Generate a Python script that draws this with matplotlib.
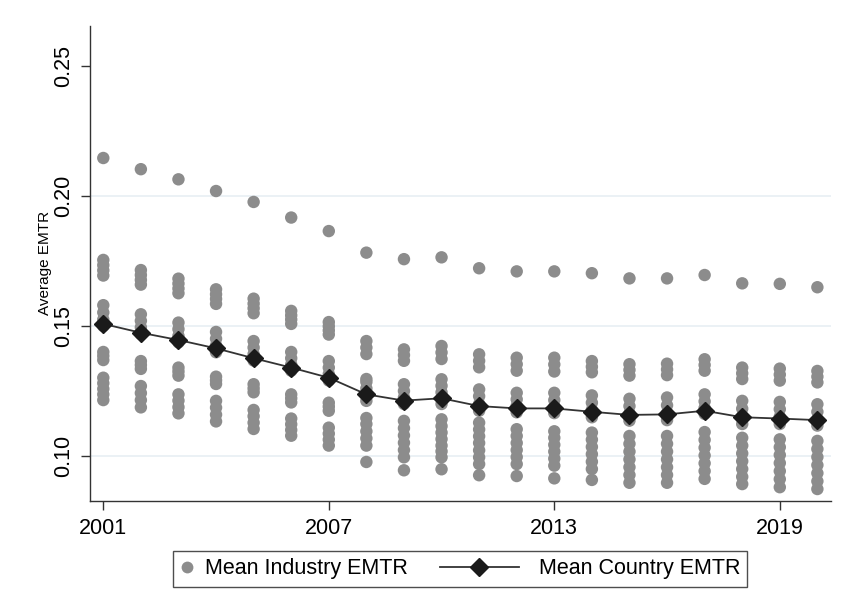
import matplotlib
matplotlib.use("Agg")
import matplotlib.pyplot as plt
from matplotlib.lines import Line2D
from matplotlib.legend_handler import HandlerBase

plt.rcParams["font.family"] = ["Liberation Sans", "DejaVu Sans"]

years = list(range(2001, 2021))

# Mean EMTR of each industry, per year
industry_emtr = {
    2001: [0.2146, 0.1754, 0.1734, 0.1714, 0.1694, 0.158, 0.1552, 0.1525, 0.150,
           0.140, 0.1385, 0.1369, 0.1301, 0.128, 0.1258, 0.1237, 0.1215],
    2002: [0.2103, 0.1715, 0.1696, 0.1677, 0.1659, 0.1545, 0.152, 0.1495, 0.1469,
           0.1365, 0.135, 0.1335, 0.1269, 0.1242, 0.1215, 0.1187],
    2003: [0.2064, 0.1682, 0.1663, 0.1644, 0.1626, 0.1513, 0.1488, 0.1462, 0.1437,
           0.134, 0.1325, 0.1309, 0.1237, 0.1213, 0.1188, 0.1164],
    2004: [0.2019, 0.1641, 0.1622, 0.1604, 0.1585, 0.1477, 0.1451, 0.1425, 0.1399,
           0.1305, 0.1291, 0.1277, 0.1212, 0.1186, 0.1159, 0.1133],
    2005: [0.1977, 0.1605, 0.1586, 0.1568, 0.1549, 0.1442, 0.1417, 0.1392, 0.1367,
           0.1276, 0.126, 0.1245, 0.1177, 0.1153, 0.1128, 0.1104],
    2006: [0.1917, 0.1558, 0.1541, 0.1525, 0.1508, 0.140, 0.1376, 0.1352, 0.1328,
           0.1237, 0.1222, 0.1206, 0.1144, 0.1122, 0.110, 0.1078],
    2007: [0.1865, 0.1515, 0.1499, 0.1483, 0.1467, 0.1365, 0.134, 0.1315, 0.129,
           0.1205, 0.119, 0.1174, 0.1109, 0.1086, 0.1063, 0.104],
    2008: [0.1782, 0.1442, 0.1417, 0.1392, 0.1296, 0.1285, 0.126, 0.1235, 0.1212,
           0.1146, 0.1123, 0.1095, 0.1068, 0.104, 0.0977],
    2009: [0.1757, 0.141, 0.1388, 0.1366, 0.1276, 0.125, 0.1225, 0.120,
           0.1135, 0.1107, 0.1079, 0.1051, 0.1023, 0.0995, 0.0945],
    2010: [0.1764, 0.1423, 0.1398, 0.1373, 0.1295, 0.127, 0.1245, 0.122, 0.120,
           0.1141, 0.1115, 0.109, 0.1065, 0.104, 0.1018, 0.0995, 0.0949],
    2011: [0.1722, 0.1391, 0.1366, 0.1341, 0.1256, 0.123, 0.120, 0.1174,
           0.1128, 0.1102, 0.1076, 0.105, 0.1022, 0.0995, 0.0969, 0.0926],
    2012: [0.171, 0.1378, 0.1353, 0.1328, 0.1243, 0.1218, 0.1193, 0.1168,
           0.1103, 0.1077, 0.105, 0.1023, 0.0996, 0.0969, 0.0923],
    2013: [0.171, 0.1378, 0.1352, 0.1325, 0.1243, 0.1215, 0.119, 0.1165,
           0.1095, 0.107, 0.1043, 0.1017, 0.099, 0.0963, 0.0914],
    2014: [0.1703, 0.1365, 0.1343, 0.1322, 0.1233, 0.1205, 0.1177, 0.1149,
           0.109, 0.1063, 0.1035, 0.1007, 0.0978, 0.095, 0.0908],
    2015: [0.1683, 0.1353, 0.1331, 0.1309, 0.122, 0.1192, 0.1164, 0.1136,
           0.1077, 0.1047, 0.1017, 0.0987, 0.0957, 0.0927, 0.0897],
    2016: [0.1683, 0.1355, 0.1333, 0.1311, 0.1225, 0.1195, 0.1165, 0.1138,
           0.1077, 0.1047, 0.1017, 0.0987, 0.0957, 0.0927, 0.0897],
    2017: [0.1696, 0.1372, 0.135, 0.1328, 0.1237, 0.121, 0.1185, 0.1162,
           0.1092, 0.1062, 0.1032, 0.1002, 0.0972, 0.0942, 0.0912],
    2018: [0.1664, 0.134, 0.1318, 0.1296, 0.1212, 0.1182, 0.1152, 0.1123,
           0.107, 0.104, 0.101, 0.098, 0.095, 0.092, 0.0892],
    2019: [0.1662, 0.1336, 0.1313, 0.129, 0.1208, 0.118, 0.1151, 0.1123,
           0.1064, 0.1034, 0.1004, 0.0973, 0.0942, 0.0911, 0.088],
    2020: [0.1649, 0.1327, 0.1305, 0.1283, 0.1199, 0.117, 0.1138, 0.1117,
           0.1058, 0.1027, 0.0996, 0.0965, 0.0934, 0.0903, 0.0873],
}

# Mean EMTR across countries, per year
country_emtr = [0.1508, 0.1474, 0.1446, 0.1414, 0.1376, 0.1340, 0.1301,
                0.1237, 0.1213, 0.1222, 0.1192, 0.1183, 0.1183, 0.1170,
                0.1158, 0.1160, 0.1174, 0.1149, 0.1144, 0.1138]

x_ticks = [2001, 2007, 2013, 2019]
y_ticks = [0.10, 0.15, 0.20, 0.25]
y_tick_labels = ["0.10", "0.15", "0.20", "0.25"]
legend_labels = ["Mean Industry EMTR", "Mean Country EMTR"]

dot_color = "#8c8c8c"
mark_color = "#1a1a1a"
line_color = "#333333"
grid_color = "#e8eff3"


class LeftReachingLine(HandlerBase):
    """Connected-line key whose line and marker reach left of the key box."""

    def create_artists(self, legend, orig_handle, xdescent, ydescent,
                       width, height, fontsize, trans):
        y = height / 2 - ydescent
        x0 = -xdescent
        seg = Line2D([x0 - 53.3, x0 + 3.6], [y, y], color=line_color,
                     linewidth=1.3, transform=trans)
        mk = Line2D([x0 - 25.2], [y], linestyle="none", marker="D",
                    markersize=8.8, markerfacecolor=mark_color,
                    markeredgecolor=mark_color, transform=trans)
        return [seg, mk]


fig = plt.figure(figsize=(8.41, 6.14), dpi=100)
ax = fig.add_axes([0.107, 0.1845, 0.881, 0.7733])

for yv in [0.10, 0.15, 0.20]:
    ax.axhline(yv, color=grid_color, linewidth=1.2, zorder=0)

xs, ys = [], []
for yr in years:
    for v in industry_emtr[yr]:
        xs.append(yr)
        ys.append(v)
ax.scatter(xs, ys, s=80, color=dot_color, edgecolors="none", zorder=2)

ax.plot(years, country_emtr, color=line_color, linewidth=1.3, marker="D",
        markersize=8.8, markerfacecolor=mark_color, markeredgecolor=mark_color,
        zorder=3)

ax.set_xlim(2000.646, 2020.36)
ax.set_ylim(0.0828, 0.2654)
ax.set_xticks(x_ticks)
ax.set_xticklabels([str(t) for t in x_ticks])
ax.set_yticks(y_ticks)
ax.set_yticklabels(y_tick_labels, rotation=90, va="center")

for side in ["top", "right"]:
    ax.spines[side].set_visible(False)
for side in ["left", "bottom"]:
    ax.spines[side].set_color("#333333")
    ax.spines[side].set_linewidth(1.0)

ax.tick_params(axis="both", which="both", direction="out", length=6.5,
               width=1.0, color="#333333", labelsize=15.5)
ax.tick_params(axis="x", pad=6)
ax.tick_params(axis="y", pad=5)

ax.set_ylabel("Average EMTR", fontsize=11)
ax.yaxis.set_label_coords(-0.051, 0.5)

dot_key = Line2D([], [], linestyle="none", marker="o", markersize=8.5,
                 markerfacecolor=dot_color, markeredgecolor="none")
line_key = Line2D([], [], color=line_color, linewidth=1.3, marker="D")
leg = fig.legend([dot_key, line_key], legend_labels,
                 handler_map={line_key: LeftReachingLine()},
                 loc="center", bbox_to_anchor=(0.547, 0.0733), ncol=2,
                 fontsize=15.5, frameon=True, fancybox=False,
                 edgecolor="#222222", handlelength=0.65, handletextpad=0.51,
                 columnspacing=4.92, borderpad=0.33, borderaxespad=0)
leg.get_frame().set_linewidth(1.0)

fig.savefig("out.png", dpi=100, facecolor="white")
